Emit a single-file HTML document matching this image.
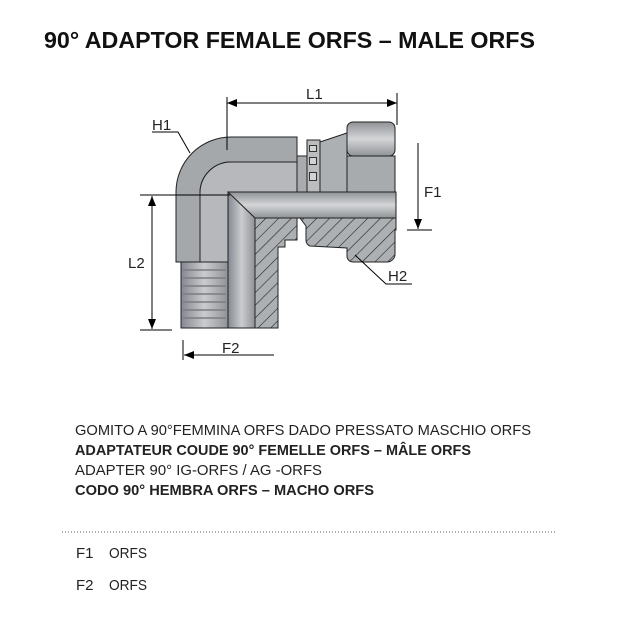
<!DOCTYPE html>
<html><head><meta charset="utf-8"><style>html,body{margin:0;padding:0;background:#fff}svg{display:block}</style></head>
<body>
<svg width="640" height="640" viewBox="0 0 640 640" xmlns="http://www.w3.org/2000/svg" font-family="Liberation Sans, sans-serif">
<defs>
<linearGradient id="gv" x1="0" x2="1" y1="0" y2="0"><stop offset="0" stop-color="#858890"/><stop offset="0.5" stop-color="#cacccf"/><stop offset="1" stop-color="#909396"/></linearGradient>
<linearGradient id="gh" x1="0" x2="0" y1="0" y2="1"><stop offset="0" stop-color="#909396"/><stop offset="0.5" stop-color="#d3d5d7"/><stop offset="1" stop-color="#909396"/></linearGradient>
<pattern id="hat" width="9" height="9" patternUnits="userSpaceOnUse" patternTransform="rotate(45)"><rect width="9" height="9" fill="#adb0b3"/><line x1="0" y1="0" x2="0" y2="9" stroke="#222" stroke-width="1.2"/></pattern>
<marker id="ar" markerWidth="10" markerHeight="8" refX="10" refY="4" orient="auto" markerUnits="userSpaceOnUse"><path d="M0,0 L10,4 L0,8 Z" fill="#000"/></marker>
</defs>
<text x="44" y="48" font-size="23" font-weight="bold" fill="#111" textLength="491" lengthAdjust="spacingAndGlyphs">90°  ADAPTOR FEMALE ORFS – MALE ORFS</text>

<g stroke="#222" stroke-width="1">
<path d="M176,262 L176,192 A55,55 0 0 1 231,137 L297,137 L297,162 L231,162 A31,31 0 0 0 200,192 L200,262 Z" fill="#a5a8ab"/>
<path d="M200,262 L200,192 A31,31 0 0 1 231,162 L297,162 L297,192 L228,192 L228,262 Z" fill="#b6b8bb"/>
<rect x="181" y="262" width="47" height="66" fill="url(#gv)"/>
<rect x="297" y="156" width="10" height="36" fill="#a9acaf"/>
<rect x="307" y="140" width="13" height="52" fill="#bbbdbf"/>
<path d="M320,142 L347,133 L347,192 L320,192 Z" fill="#adb0b3"/>
<rect x="347" y="122" width="48" height="34" rx="6" fill="url(#gh)"/>
<rect x="347" y="156" width="48" height="36" fill="#a8abae"/>
<rect x="228" y="192" width="168" height="26" fill="url(#gh)"/>
<path d="M228,192 L255,218 L255,328 L228,328 Z" fill="url(#gv)"/>
<path d="M255,218 L297,218 L297,240 L285,240 L285,247 L278,247 L278,328 L255,328 Z" fill="url(#hat)"/>
<path d="M300,218 L396,218 L396,230 L395,230 L395,255 A8,8 0 0 1 387,262 L353,262 A6,6 0 0 1 347,256 L347,248 L310,246 A6,6 0 0 1 306,240 L306,226 Z" fill="url(#hat)"/>
</g>
<g fill="#333"><rect x="309" y="145" width="8" height="7"/><rect x="309" y="157" width="8" height="8"/><rect x="309" y="172" width="8" height="9"/></g>
<g fill="#d0d2d4"><rect x="310" y="146" width="6" height="5"/><rect x="310" y="158" width="6" height="6"/><rect x="310" y="173" width="6" height="7"/></g>
<g stroke="#7a7d80" stroke-width="1.5"><line x1="183" y1="270" x2="226" y2="270"/><line x1="183" y1="278" x2="226" y2="278"/><line x1="183" y1="286" x2="226" y2="286"/><line x1="183" y1="294" x2="226" y2="294"/><line x1="183" y1="302" x2="226" y2="302"/><line x1="183" y1="310" x2="226" y2="310"/><line x1="183" y1="318" x2="226" y2="318"/></g>

<g stroke="#000" stroke-width="1" fill="none">
<line x1="227" y1="97" x2="227" y2="150"/><line x1="397" y1="93" x2="397" y2="125"/>
<line x1="237" y1="103" x2="397" y2="103" marker-end="url(#ar)"/><line x1="387" y1="103" x2="227" y2="103" marker-end="url(#ar)"/>
<line x1="407" y1="230" x2="432" y2="230"/>
<line x1="418" y1="143" x2="418" y2="229" marker-end="url(#ar)"/>
<line x1="140" y1="195" x2="230" y2="195"/><line x1="140" y1="330" x2="172" y2="330"/>
<line x1="152" y1="200" x2="152" y2="329" marker-end="url(#ar)"/><line x1="152" y1="320" x2="152" y2="196" marker-end="url(#ar)"/>
<line x1="183" y1="340" x2="183" y2="360"/>
<line x1="274" y1="355" x2="184" y2="355" marker-end="url(#ar)"/>
<polyline points="152,132 178,132 190,153"/>
<polyline points="355,255 386,284 412,284"/>
</g>
<g font-size="15" fill="#222">
<text x="306" y="99">L1</text><text x="424" y="197">F1</text><text x="128" y="268">L2</text><text x="222" y="353">F2</text>
<text x="152" y="130">H1</text><text x="388" y="281">H2</text>
</g>

<g font-size="15" fill="#222">
<text x="75" y="435" textLength="456" lengthAdjust="spacingAndGlyphs">GOMITO A 90°FEMMINA ORFS DADO PRESSATO MASCHIO ORFS</text>
<text x="75" y="455" font-weight="bold" textLength="396" lengthAdjust="spacingAndGlyphs">ADAPTATEUR COUDE 90° FEMELLE ORFS – MÂLE ORFS</text>
<text x="75" y="475" textLength="247" lengthAdjust="spacingAndGlyphs">ADAPTER 90° IG-ORFS / AG -ORFS</text>
<text x="75" y="495" font-weight="bold" textLength="299" lengthAdjust="spacingAndGlyphs">CODO 90° HEMBRA ORFS – MACHO ORFS</text>
<text x="76" y="558">F1</text><text x="109" y="558" textLength="38" lengthAdjust="spacingAndGlyphs">ORFS</text>
<text x="76" y="590">F2</text><text x="109" y="590" textLength="38" lengthAdjust="spacingAndGlyphs">ORFS</text>
</g>
<line x1="62" y1="532" x2="555" y2="532" stroke="#555" stroke-width="1" stroke-dasharray="1,2"/>
</svg>
</body></html>
